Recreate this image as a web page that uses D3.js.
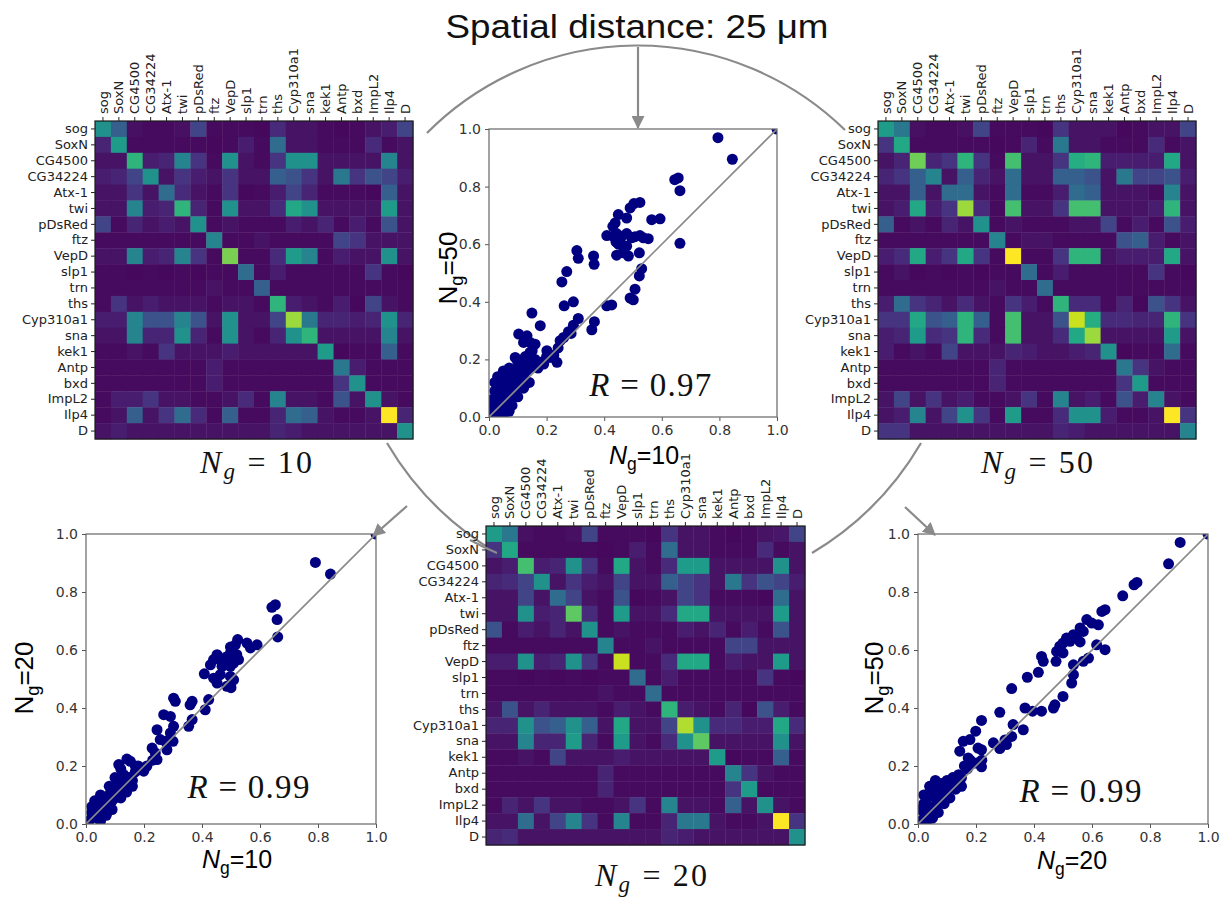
<!DOCTYPE html>
<html>
<head>
<meta charset="utf-8">
<script src="https://cdn.jsdelivr.net/npm/d3@7"></script>
<style>
  body { margin: 0; background: #fff; }
  svg { display: block; }
</style>
</head>
<body>
<svg id="fig" width="1223" height="898"></svg>
<script>
// ---- gene order used on both axes of every matrix ----
const genes = ["sog","SoxN","CG4500","CG34224","Atx-1","twi","pDsRed","ftz","VepD","slp1",
               "trn","ths","Cyp310a1","sna","kek1","Antp","bxd","ImpL2","Ilp4","D"];

// ---- normalised co-localisation matrices (rows = genes above) ----
const matrixNg10 = [
  [.50,.30,.04,.03,.03,.04,.20,.03,.03,.03,.02,.12,.05,.05,.03,.02,.03,.05,.08,.20],
  [.10,.55,.03,.03,.03,.03,.03,.02,.03,.08,.03,.35,.05,.05,.03,.03,.03,.12,.03,.05],
  [.05,.05,.65,.08,.10,.45,.15,.03,.50,.05,.03,.15,.50,.50,.05,.05,.05,.05,.45,.05],
  [.08,.10,.20,.50,.05,.15,.08,.05,.15,.05,.05,.30,.25,.15,.05,.40,.15,.25,.20,.08],
  [.05,.05,.15,.05,.35,.12,.05,.03,.15,.02,.03,.08,.20,.10,.03,.03,.03,.02,.30,.05],
  [.05,.05,.45,.08,.10,.65,.10,.03,.50,.05,.05,.12,.60,.50,.05,.05,.05,.05,.55,.05],
  [.20,.03,.10,.05,.08,.05,.50,.03,.05,.03,.03,.03,.08,.05,.10,.03,.08,.03,.25,.05],
  [.03,.03,.03,.03,.03,.03,.03,.45,.03,.03,.05,.03,.03,.03,.03,.20,.15,.05,.05,.05],
  [.05,.05,.45,.08,.10,.45,.15,.03,.80,.03,.03,.12,.55,.45,.03,.08,.05,.05,.50,.05],
  [.03,.03,.02,.03,.02,.03,.02,.03,.03,.35,.03,.08,.03,.03,.03,.03,.03,.15,.03,.02],
  [.03,.03,.03,.03,.03,.03,.03,.05,.03,.03,.30,.03,.03,.03,.03,.03,.03,.03,.03,.03],
  [.03,.15,.05,.08,.05,.05,.05,.03,.05,.05,.03,.65,.08,.05,.03,.08,.02,.20,.05,.03],
  [.08,.08,.45,.25,.25,.45,.25,.05,.50,.05,.05,.20,.85,.40,.10,.10,.08,.10,.50,.10],
  [.05,.05,.45,.10,.10,.50,.10,.03,.50,.05,.03,.10,.50,.65,.05,.05,.05,.05,.45,.05],
  [.03,.03,.05,.03,.15,.05,.05,.05,.08,.05,.05,.05,.05,.05,.55,.02,.03,.03,.30,.03],
  [.03,.03,.03,.03,.03,.03,.03,.08,.03,.03,.03,.03,.03,.03,.03,.40,.08,.03,.03,.03],
  [.03,.03,.03,.03,.03,.03,.03,.08,.03,.03,.03,.03,.03,.03,.03,.15,.50,.03,.03,.03],
  [.03,.08,.08,.15,.05,.05,.03,.03,.05,.12,.03,.45,.05,.05,.03,.25,.05,.50,.05,.03],
  [.03,.05,.30,.05,.15,.35,.12,.03,.30,.03,.03,.10,.35,.30,.05,.03,.03,.05,1.0,.10],
  [.05,.08,.05,.05,.05,.05,.05,.05,.05,.05,.05,.10,.08,.05,.05,.05,.05,.05,.05,.50]
];

const matrixNg20 = [
  [.55,.40,.04,.03,.03,.04,.20,.03,.03,.03,.02,.15,.05,.05,.03,.02,.03,.05,.06,.20],
  [.15,.60,.03,.03,.03,.03,.03,.02,.03,.08,.03,.35,.05,.05,.03,.03,.03,.12,.03,.05],
  [.05,.08,.70,.08,.10,.50,.15,.03,.60,.05,.03,.12,.55,.55,.05,.05,.05,.05,.50,.05],
  [.10,.12,.20,.50,.05,.15,.08,.05,.20,.05,.05,.30,.20,.15,.05,.40,.15,.25,.20,.08],
  [.05,.05,.20,.05,.35,.20,.05,.03,.25,.02,.03,.05,.20,.15,.03,.03,.03,.02,.35,.05],
  [.05,.05,.50,.08,.10,.75,.12,.03,.55,.05,.05,.12,.60,.60,.05,.05,.05,.05,.55,.05],
  [.25,.03,.08,.05,.10,.05,.50,.03,.05,.03,.03,.03,.08,.05,.10,.03,.08,.03,.25,.05],
  [.03,.03,.03,.03,.03,.03,.03,.45,.03,.03,.05,.03,.03,.03,.03,.20,.20,.05,.05,.05],
  [.08,.08,.50,.08,.10,.50,.15,.03,.92,.03,.03,.12,.60,.60,.03,.08,.05,.05,.55,.05],
  [.03,.03,.02,.03,.02,.03,.02,.03,.03,.35,.03,.08,.03,.03,.03,.03,.03,.15,.03,.02],
  [.03,.03,.03,.03,.03,.03,.03,.05,.03,.03,.35,.03,.03,.03,.03,.03,.03,.03,.03,.03],
  [.05,.25,.05,.10,.05,.05,.05,.03,.08,.05,.03,.65,.08,.05,.03,.10,.02,.25,.08,.03],
  [.10,.10,.50,.25,.30,.50,.30,.05,.60,.05,.05,.20,.88,.50,.12,.12,.08,.08,.60,.12],
  [.05,.05,.45,.10,.10,.55,.10,.03,.55,.05,.03,.12,.50,.75,.05,.05,.05,.05,.50,.05],
  [.03,.03,.05,.03,.20,.05,.05,.05,.08,.05,.05,.05,.05,.05,.55,.02,.03,.03,.30,.03],
  [.03,.03,.03,.03,.03,.03,.03,.10,.03,.03,.03,.03,.03,.03,.03,.45,.15,.05,.03,.03],
  [.03,.03,.03,.03,.03,.03,.03,.10,.03,.03,.03,.03,.03,.03,.03,.15,.55,.03,.03,.03],
  [.03,.10,.05,.15,.05,.05,.03,.03,.05,.15,.03,.45,.05,.05,.03,.30,.05,.50,.05,.03],
  [.05,.05,.35,.05,.20,.45,.15,.03,.45,.03,.03,.10,.40,.40,.05,.03,.03,.05,1.0,.15],
  [.10,.12,.05,.05,.05,.05,.05,.05,.05,.05,.05,.10,.08,.05,.05,.05,.05,.05,.05,.50]
];

const matrixNg50 = [
  [.55,.40,.04,.03,.03,.04,.20,.03,.03,.03,.02,.15,.05,.05,.05,.02,.03,.05,.05,.20],
  [.15,.60,.03,.03,.03,.03,.03,.02,.03,.10,.03,.40,.05,.05,.03,.03,.03,.12,.03,.05],
  [.05,.10,.78,.10,.15,.65,.15,.03,.70,.05,.05,.15,.62,.65,.08,.08,.08,.08,.60,.05],
  [.10,.15,.30,.45,.05,.30,.10,.05,.35,.05,.05,.30,.30,.25,.05,.40,.20,.20,.25,.08],
  [.05,.05,.30,.05,.35,.35,.05,.03,.35,.03,.03,.08,.35,.30,.05,.05,.05,.03,.45,.05],
  [.05,.08,.60,.08,.15,.85,.12,.03,.70,.05,.05,.15,.70,.70,.05,.05,.05,.08,.65,.05],
  [.30,.03,.05,.03,.10,.05,.50,.03,.05,.03,.03,.03,.05,.05,.20,.03,.08,.03,.25,.08],
  [.03,.03,.03,.03,.03,.03,.03,.45,.03,.05,.05,.03,.03,.03,.03,.25,.30,.08,.03,.05],
  [.08,.12,.60,.08,.15,.60,.15,.03,1.0,.03,.03,.15,.65,.65,.05,.08,.08,.08,.60,.05],
  [.03,.05,.02,.03,.02,.03,.02,.03,.03,.35,.03,.08,.03,.03,.03,.03,.03,.15,.03,.02],
  [.03,.03,.03,.03,.03,.03,.03,.05,.03,.03,.35,.03,.03,.03,.03,.03,.03,.03,.03,.03],
  [.08,.35,.15,.10,.05,.12,.05,.03,.15,.08,.03,.65,.12,.12,.03,.10,.02,.25,.15,.05],
  [.15,.15,.60,.25,.30,.65,.30,.03,.70,.05,.05,.25,.92,.62,.12,.12,.10,.10,.65,.15],
  [.08,.10,.55,.12,.15,.65,.12,.03,.70,.05,.05,.12,.60,.85,.05,.05,.05,.05,.55,.05],
  [.08,.03,.05,.03,.20,.05,.05,.05,.10,.08,.05,.05,.08,.10,.50,.02,.03,.03,.35,.03],
  [.03,.03,.03,.03,.03,.03,.03,.10,.03,.03,.03,.03,.03,.03,.03,.40,.15,.05,.03,.03],
  [.03,.03,.03,.03,.03,.03,.03,.10,.03,.03,.03,.03,.03,.03,.03,.15,.55,.03,.03,.03],
  [.05,.20,.05,.15,.05,.08,.03,.03,.05,.15,.03,.45,.05,.08,.03,.25,.08,.45,.05,.03],
  [.05,.08,.45,.05,.20,.50,.15,.03,.55,.03,.03,.12,.50,.50,.08,.03,.03,.05,1.0,.15],
  [.15,.15,.05,.05,.05,.05,.05,.05,.05,.05,.05,.10,.08,.05,.05,.05,.05,.05,.05,.45]
];

// ---- paired matrix entries: [value at first N_g, value at second N_g] ----
const pairs10v50 = [
  [0.795,0.97],[0.845,0.895],[1.0,1.0],
  [0.645,0.824],[0.657,0.83],[0.663,0.786],[0.663,0.603],
  [0.565,0.685],[0.594,0.688],[0.49,0.726],[0.503,0.741],[0.524,0.745],
  [0.449,0.703],[0.478,0.691],[0.438,0.674],[0.43,0.662],
  [0.409,0.63],[0.43,0.628],[0.443,0.637],[0.461,0.628],[0.478,0.637],
  [0.495,0.622],[0.507,0.626],[0.524,0.63],[0.536,0.622],[0.553,0.619],
  [0.441,0.608],[0.449,0.6],[0.461,0.599],[0.478,0.593],
  [0.443,0.562],[0.466,0.57],[0.484,0.559],[0.522,0.57],
  [0.53,0.515],[0.522,0.49],[0.507,0.444],[0.49,0.413],[0.501,0.407],
  [0.409,0.386],[0.426,0.389],[0.363,0.559],[0.365,0.53],
  [0.305,0.578],[0.31,0.551],[0.27,0.505],[0.253,0.469],
  [0.293,0.4],[0.261,0.386],[0.366,0.331],[0.357,0.303],
  [0.31,0.342],[0.293,0.319],[0.276,0.296],[0.259,0.276],[0.247,0.265],[0.285,0.29],
  [0.149,0.361],[0.178,0.317],[0.103,0.288],[0.132,0.282],[0.12,0.259],[0.143,0.259],[0.16,0.253],
  [0.143,0.225],[0.126,0.21],[0.201,0.23],[0.212,0.207],[0.236,0.19],[0.19,0.184],
  [0.225,0.215],[0.24,0.24],[0.091,0.207],
  [0.005,0.01],[0.01,0.03],[0.01,0.06],[0.02,0.02],[0.02,0.05],[0.02,0.09],[0.02,0.12],
  [0.03,0.04],[0.03,0.07],[0.03,0.11],[0.04,0.02],[0.04,0.06],[0.04,0.09],[0.04,0.13],
  [0.05,0.04],[0.05,0.08],[0.05,0.12],[0.06,0.03],[0.06,0.07],[0.06,0.11],[0.06,0.14],
  [0.07,0.05],[0.07,0.09],[0.07,0.13],[0.08,0.07],[0.08,0.11],[0.08,0.15],[0.09,0.09],
  [0.09,0.13],[0.09,0.16],[0.10,0.11],[0.10,0.15],[0.11,0.13],[0.11,0.17],[0.12,0.14],
  [0.12,0.18],[0.13,0.16],[0.13,0.20],[0.14,0.17],[0.15,0.19],[0.15,0.23],[0.16,0.20],
  [0.05,0.01],[0.07,0.02],[0.08,0.04],[0.03,0.00],[0.10,0.07],[0.12,0.10],[0.14,0.12],
  [0.17,0.17],[0.18,0.19],[0.20,0.21],[0.03,0.14],[0.05,0.16],[0.07,0.17],[0.10,0.19],[0.12,0.20]
];

const pairs10v20 = [
  [0.791,0.902],[0.843,0.862],[1.0,1.0],
  [0.641,0.747],[0.653,0.756],[0.659,0.705],[0.661,0.645],
  [0.59,0.618],[0.555,0.624],[0.567,0.607],[0.498,0.61],[0.523,0.636],[0.515,0.618],
  [0.498,0.59],[0.52,0.584],[0.452,0.584],[0.44,0.567],[0.429,0.549],
  [0.463,0.567],[0.484,0.576],[0.469,0.544],[0.486,0.553],
  [0.498,0.544],[0.509,0.555],[0.526,0.567],[0.463,0.515],[0.44,0.503],[0.452,0.486],
  [0.498,0.509],[0.509,0.497],[0.486,0.475],[0.5,0.47],
  [0.408,0.518],[0.411,0.394],[0.423,0.429],[0.302,0.434],[0.308,0.423],
  [0.366,0.423],[0.359,0.411],[0.366,0.36],[0.354,0.337],
  [0.268,0.377],[0.291,0.371],[0.245,0.325],[0.302,0.337],[0.291,0.314],[0.3,0.285],
  [0.228,0.262],[0.239,0.245],[0.245,0.222],[0.256,0.291],[0.274,0.285],[0.279,0.256],
  [0.199,0.182],[0.18,0.2],[0.141,0.224],[0.153,0.216],[0.113,0.205],[0.12,0.19],
  [0.01,0.01],[0.02,0.02],[0.02,0.04],[0.03,0.03],[0.03,0.05],[0.04,0.02],[0.04,0.06],
  [0.05,0.04],[0.05,0.07],[0.06,0.05],[0.06,0.08],[0.07,0.06],[0.07,0.09],[0.08,0.07],
  [0.08,0.10],[0.09,0.08],[0.09,0.12],[0.10,0.09],[0.10,0.13],[0.11,0.11],[0.11,0.15],
  [0.12,0.12],[0.13,0.14],[0.13,0.17],[0.14,0.13],[0.15,0.16],[0.16,0.15],[0.17,0.18],
  [0.05,0.01],[0.07,0.03],[0.09,0.05],[0.12,0.09],[0.14,0.11],[0.16,0.13],[0.03,0.08],
  [0.05,0.10],[0.08,0.13],[0.10,0.16],[0.02,0.06],[0.17,0.20],[0.19,0.19],[0.21,0.20],[0.23,0.22]
];

const pairs20v50 = [
  [0.904,0.971],[0.864,0.897],[1.0,1.0],
  [0.755,0.833],[0.745,0.825],[0.706,0.787],[0.645,0.739],[0.634,0.733],[0.622,0.687],
  [0.582,0.705],[0.599,0.693],[0.559,0.676],[0.57,0.664],
  [0.536,0.653],[0.547,0.641],[0.524,0.63],[0.512,0.641],[0.5,0.624],
  [0.489,0.613],[0.5,0.59],[0.478,0.595],[0.49,0.6],
  [0.559,0.628],[0.616,0.618],[0.645,0.601],[0.588,0.572],[0.57,0.561],[0.536,0.549],
  [0.536,0.515],[0.53,0.486],[0.5,0.44],[0.472,0.411],[0.467,0.4],
  [0.426,0.578],[0.432,0.561],[0.476,0.561],[0.415,0.523],[0.377,0.506],[0.323,0.467],
  [0.369,0.4],[0.395,0.389],[0.426,0.389],[0.282,0.385],[0.219,0.357],[0.199,0.32],
  [0.363,0.325],[0.328,0.343],[0.323,0.302],[0.305,0.274],[0.282,0.26],[0.26,0.28],[0.3,0.29],
  [0.156,0.285],[0.179,0.291],[0.144,0.251],[0.207,0.262],[0.219,0.256],
  [0.173,0.228],[0.202,0.21],[0.219,0.197],[0.22,0.22],
  [0.01,0.01],[0.02,0.04],[0.02,0.07],[0.03,0.03],[0.03,0.09],[0.04,0.06],[0.04,0.11],
  [0.05,0.04],[0.05,0.12],[0.06,0.09],[0.06,0.13],[0.07,0.07],[0.07,0.11],[0.08,0.14],
  [0.08,0.10],[0.09,0.12],[0.10,0.15],[0.10,0.11],[0.11,0.13],[0.12,0.16],[0.12,0.14],
  [0.13,0.15],[0.14,0.17],[0.15,0.16],[0.16,0.20],[0.17,0.19],[0.18,0.22],[0.19,0.21],
  [0.03,0.01],[0.05,0.02],[0.07,0.04],[0.09,0.07],[0.11,0.09],[0.13,0.12],[0.15,0.13],
  [0.01,0.05],[0.02,0.10],[0.04,0.13],[0.06,0.15]
];

const axisTicks = [0, 0.2, 0.4, 0.6, 0.8, 1.0];
const correlations = ["0.97", "0.99", "0.99"];
const titleText = "Spatial distance: 25 \u03bcm";

// ---------------------------------------------------------------------
const svg = d3.select("#fig");
const viridis = d3.scaleSequential(d3.interpolateViridis).domain([0, 1]);
const GREY = "#8a8a8a";
const SANS = "'Liberation Sans', Arial, sans-serif";
const TICKFONT = "'DejaVu Sans', sans-serif";
const SERIF = "'Liberation Serif', 'DejaVu Serif', serif";

const defs = svg.append("defs");
defs.append("marker")
  .attr("id", "head").attr("markerUnits", "userSpaceOnUse")
  .attr("viewBox", "0 0 12 12").attr("markerWidth", 13).attr("markerHeight", 13)
  .attr("refX", 11).attr("refY", 6).attr("orient", "auto")
  .append("path").attr("d", "M0,0 L12,6 L0,12 Z").attr("fill", GREY);

function drawHeatmap(matrix, x0, y0, size) {
  const g = svg.append("g").attr("transform", `translate(${x0},${y0})`);
  const x = d3.scaleBand().domain(genes).range([0, size]);
  const y = d3.scaleBand().domain(genes).range([0, size]);
  const cells = [];
  matrix.forEach((row, i) => row.forEach((v, j) => cells.push({ r: genes[i], c: genes[j], v })));
  g.selectAll("rect.cell").data(cells).join("rect")
    .attr("class", "cell")
    .attr("x", d => x(d.c)).attr("y", d => y(d.r))
    .attr("width", x.bandwidth() + 0.4).attr("height", y.bandwidth() + 0.4)
    .attr("fill", d => viridis(d.v));
  g.append("rect").attr("width", size).attr("height", size)
    .attr("fill", "none").attr("stroke", "#1a1a1a").attr("stroke-width", 1.2);

  const left = g.append("g").call(d3.axisLeft(y).tickSize(4).tickPadding(3));
  const top = g.append("g").call(d3.axisTop(x).tickSize(4).tickPadding(3));
  top.selectAll("text")
    .attr("transform", "rotate(-90)").attr("text-anchor", "start")
    .attr("x", 7).attr("y", 0).attr("dy", "0.35em");
  [left, top].forEach(a => {
    a.select(".domain").remove();
    a.attr("font-family", TICKFONT).attr("font-size", 13);
    a.selectAll("line").attr("stroke", "#222");
    a.selectAll("text").attr("fill", "#222");
  });
}

function drawScatter(points, x0, y0, size, idx, rPos) {
  const g = svg.append("g").attr("transform", `translate(${x0},${y0})`);
  const x = d3.scaleLinear().domain([0, 1]).range([0, size]);
  const y = d3.scaleLinear().domain([0, 1]).range([size, 0]);
  const clipId = "clip" + idx;
  defs.append("clipPath").attr("id", clipId)
    .append("rect").attr("width", size).attr("height", size);

  const plot = g.append("g").attr("clip-path", `url(#${clipId})`);
  plot.selectAll("circle").data(points).join("circle")
    .attr("cx", d => x(d[0])).attr("cy", d => y(d[1])).attr("r", 5.5)
    .attr("fill", "#000080");
  plot.append("line")
    .attr("x1", x(0)).attr("y1", y(0)).attr("x2", x(1)).attr("y2", y(1))
    .attr("stroke", GREY).attr("stroke-width", 1.6);

  const fmt = d3.format(".1f");
  const bottom = g.append("g").attr("transform", `translate(0,${size})`)
    .call(d3.axisBottom(x).tickValues(axisTicks).tickFormat(fmt).tickSize(4).tickPadding(4));
  const left = g.append("g")
    .call(d3.axisLeft(y).tickValues(axisTicks).tickFormat(fmt).tickSize(4).tickPadding(4));
  [bottom, left].forEach(a => {
    a.select(".domain").remove();
    a.attr("font-family", TICKFONT).attr("font-size", 14);
    a.selectAll("line").attr("stroke", "#555");
    a.selectAll("text").attr("fill", "#333");
  });
  g.append("rect").attr("width", size).attr("height", size)
    .attr("fill", "none").attr("stroke", "#666").attr("stroke-width", 1.2);

  // correlation label
  const t = g.append("text")
    .attr("x", x(rPos[0])).attr("y", y(rPos[1]))
    .attr("text-anchor", "middle").attr("font-family", SERIF).attr("font-size", 33)
    .attr("fill", "#111")
    .attr("textLength", 122).attr("lengthAdjust", "spacing");
  t.append("tspan").attr("font-style", "italic").text("R");
  t.append("tspan").text(" = " + correlations[idx]);
  return { g, x, y };
}

// axis label "N_g=…" built from tspans
function subLabel(parent, x, y, value, opts) {
  const t = parent.append("text")
    .attr("x", x).attr("y", y)
    .attr("text-anchor", "middle").attr("font-family", SANS)
    .attr("font-size", opts.size).attr("fill", "#000");
  if (opts.rotate) t.attr("transform", `rotate(-90,${x},${y})`);
  t.append("tspan").attr("font-style", opts.italic ? "italic" : "normal").text("N");
  t.append("tspan").attr("font-size", opts.size * 0.7).attr("dy", opts.size * 0.22).text("g");
  t.append("tspan").attr("dy", -opts.size * 0.22).text("=" + value);
}

// math label "N_g = …" under each matrix
function mathLabel(x, y, value) {
  const t = svg.append("text")
    .attr("x", x).attr("y", y).attr("text-anchor", "middle")
    .attr("font-family", SERIF).attr("font-size", 32).attr("fill", "#111")
    .attr("textLength", 112).attr("lengthAdjust", "spacing");
  t.append("tspan").attr("font-style", "italic").text("N");
  t.append("tspan").attr("font-style", "italic").attr("font-size", 23).attr("dy", 6).text("g");
  t.append("tspan").attr("dy", -6).text(" = " + value);
}

// ---- connectors (drawn first so that they sit beneath the panels) ----
const conn = svg.append("g").attr("fill", "none").attr("stroke", GREY).attr("stroke-width", 2.2);
conn.append("path").attr("d", "M427,133 A297,297 0 0,1 845,130");
conn.append("path").attr("d", "M387,443 A310,310 0 0,0 497,553");
conn.append("path").attr("d", "M812,553 A310,310 0 0,0 921,443");

// ---- panels ----
drawHeatmap(matrixNg10, 95, 121, 318);
drawHeatmap(matrixNg50, 878, 121, 318);
drawHeatmap(matrixNg20, 486, 526, 319);

drawScatter(pairs10v50, 489, 129, 288, 0, [0.56, 0.073]);
drawScatter(pairs10v20, 86, 534, 290, 1, [0.56, 0.09]);
drawScatter(pairs20v50, 918, 534, 290, 2, [0.56, 0.076]);

// arc end that runs over the tick label it points at
const over = svg.append("g").attr("fill", "none").attr("stroke", GREY).attr("stroke-width", 2.2);
over.append("path").attr("d", "M470,540 A310,310 0 0,0 497,553");

// arrows
const arrows = svg.append("g").attr("stroke", GREY).attr("stroke-width", 2.2);
arrows.append("line").attr("x1", 638).attr("y1", 47).attr("x2", 638).attr("y2", 128).attr("marker-end", "url(#head)");
arrows.append("line").attr("x1", 407).attr("y1", 506).attr("x2", 373).attr("y2", 536).attr("marker-end", "url(#head)");
arrows.append("line").attr("x1", 905).attr("y1", 507).attr("x2", 935).attr("y2", 535).attr("marker-end", "url(#head)");

// ---- titles and labels ----
svg.append("text").attr("x", 637).attr("y", 38).attr("text-anchor", "middle")
  .attr("font-family", SANS).attr("font-size", 33).attr("fill", "#111")
  .attr("textLength", 383).attr("lengthAdjust", "spacingAndGlyphs")
  .text(titleText);

mathLabel(256, 473, 10);
mathLabel(1037, 473, 50);
mathLabel(651, 886, 20);

subLabel(svg, 644, 464, 10, { size: 25, italic: true });
subLabel(svg, 237, 868, 10, { size: 25, italic: true });
subLabel(svg, 1072, 869, 20, { size: 25, italic: true });
subLabel(svg, 457, 268, 50, { size: 26, rotate: true });
subLabel(svg, 33, 678, 20, { size: 26, rotate: true });
subLabel(svg, 883, 678, 50, { size: 26, rotate: true });
</script>
</body>
</html>
